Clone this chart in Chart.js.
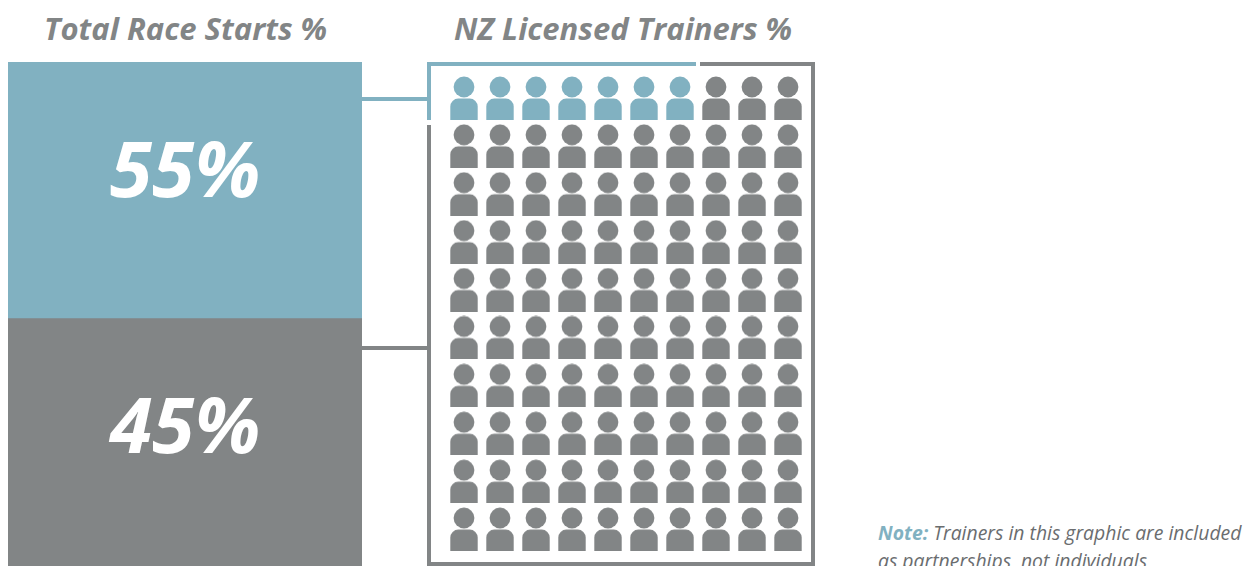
<!DOCTYPE html>
<html>
<head>
<meta charset="utf-8">
<script src="https://cdn.jsdelivr.net/npm/chart.js@4"></script>
<style>
  html, body { margin: 0; padding: 0; background: #fff; }
  body { position: relative; width: 1245px; height: 566px; overflow: hidden; font-family: "Open Sans", sans-serif; }
  canvas, .rule, .title, .note { position: absolute; }
  .title { top: 8px; font-size: 31px; line-height: 40px; font-weight: 700; font-style: italic; color: #828586; white-space: nowrap; }
  .note { left: 878px; top: 519px; font-size: 19.4px; line-height: 28px; font-style: italic; color: #6a6d6f; white-space: nowrap; }
  .note b { color: #81b1c1; }
  .blue { background: #81b1c1; }
  .gray { background: #828586; }
</style>
</head>
<body>
<div class="title" style="left:44px">Total Race Starts %</div>
<div class="title" style="left:454px">NZ Licensed Trainers %</div>

<canvas id="shareChart" width="354" height="512" style="left:8px;top:62px"></canvas>
<canvas id="peopleChart" width="360" height="479" style="left:446px;top:74px"></canvas>

<!-- connectors and bracket round the people -->
<div class="rule blue" style="left:362px;top:97px;width:65px;height:4px"></div>
<div class="rule gray" style="left:362px;top:346px;width:65px;height:4px"></div>
<div class="rule blue" style="left:427px;top:62px;width:269px;height:4px"></div>
<div class="rule blue" style="left:427px;top:62px;width:4px;height:58px"></div>
<div class="rule gray" style="left:700px;top:62px;width:115px;height:4px"></div>
<div class="rule gray" style="left:427px;top:125px;width:4px;height:441px"></div>
<div class="rule gray" style="left:811px;top:62px;width:4px;height:504px"></div>
<div class="rule gray" style="left:427px;top:562px;width:388px;height:4px"></div>

<div class="note"><b>Note:</b> Trainers in this graphic are included<br>as partnerships, not individuals</div>

<script>
const BLUE = '#81b1c1';
const GRAY = '#828586';

const shareLabels = ['55%', '45%'];
// the bars in the picture are not to scale: these are the heights as drawn, the grey one runs off the page
const drawnHeights = [55, 55];

const peopleColumns = [1, 2, 3, 4, 5, 6, 7, 8, 9, 10];
const peopleRows = [1, 2, 3, 4, 5, 6, 7, 8, 9, 10];
const bluePeople = 7;

function makePerson(color) {
    const c = document.createElement('canvas');
    c.width = 28;
    c.height = 44;
    const g = c.getContext('2d');
    g.fillStyle = color;
    g.beginPath();
    g.arc(14, 11, 10.4, 0, Math.PI * 2);
    g.fill();
    g.beginPath();
    g.roundRect(0.3, 22.6, 27.4, 21.4, [8, 8, 0, 0]);
    g.fill();
    return c;
}

// writes 55% and 45% on the bars
const shareText = {
    id: 'shareText',
    afterDatasetsDraw(chart) {
        const ctx = chart.ctx;
        ctx.save();
        ctx.fillStyle = '#fff';
        ctx.font = 'italic 700 77px "Open Sans", sans-serif';
        ctx.textAlign = 'center';
        ctx.textBaseline = 'middle';
        chart.data.datasets.forEach((ds, i) => {
            const bar = chart.getDatasetMeta(i).data[0];
            ctx.fillText(ds.label, bar.x, (bar.y + bar.base) / 2 - 15);
        });
        ctx.restore();
    }
};

new Chart(document.getElementById('shareChart'), {
    type: 'bar',
    data: {
        labels: ['Total Race Starts %'],
        datasets: [
            { label: shareLabels[0], data: [drawnHeights[0]], backgroundColor: BLUE },
            { label: shareLabels[1], data: [drawnHeights[1]], backgroundColor: GRAY }
        ]
    },
    options: {
        responsive: false,
        animation: false,
        barPercentage: 1,
        categoryPercentage: 1,
        layout: { padding: 0 },
        scales: {
            x: { stacked: true, display: false },
            y: { stacked: true, display: false, reverse: true, min: 0, max: drawnHeights[0] + drawnHeights[1] }
        },
        plugins: { legend: { display: false }, tooltip: { enabled: false } }
    },
    plugins: [shareText]
});

const bluePoints = [];
const grayPoints = [];
peopleRows.forEach(row => {
    peopleColumns.forEach(col => {
        const n = (row - 1) * peopleColumns.length + col;
        (n <= bluePeople ? bluePoints : grayPoints).push({ x: col, y: row });
    });
});

new Chart(document.getElementById('peopleChart'), {
    type: 'scatter',
    data: {
        datasets: [
            { label: 'Blue', data: bluePoints, pointStyle: makePerson(BLUE), clip: false },
            { label: 'Gray', data: grayPoints, pointStyle: makePerson(GRAY), clip: false }
        ]
    },
    options: {
        responsive: false,
        animation: false,
        layout: { padding: 0, autoPadding: false },
        scales: {
            x: { display: false, min: 0.5, max: 10.5 },
            y: { display: false, reverse: true, min: 0.5, max: 10.5 }
        },
        plugins: { legend: { display: false }, tooltip: { enabled: false } }
    }
});
</script>
</body>
</html>
